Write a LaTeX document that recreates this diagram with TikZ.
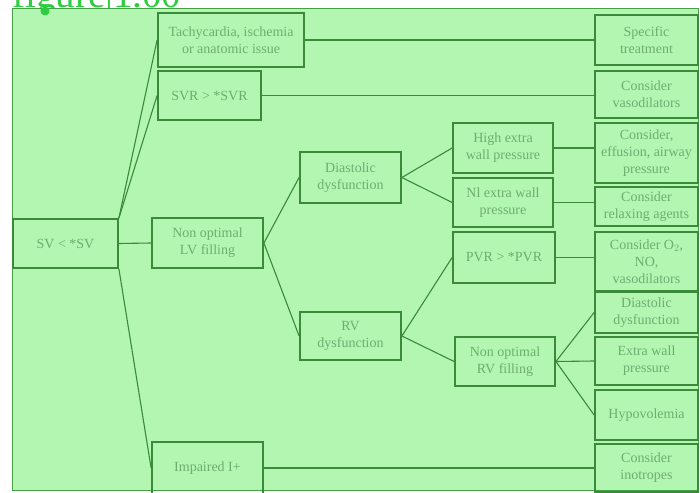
\documentclass[tikz,border=0pt]{standalone}
\usepackage{fontspec}
\setmainfont{Liberation Serif}
\begin{document}
\definecolor{haze}{RGB}{178,246,178}
\definecolor{rim}{RGB}{70,160,70}
\definecolor{edge}{RGB}{58,138,58}
\definecolor{ink}{RGB}{112,172,112}
\definecolor{tag}{RGB}{46,204,64}
\begin{tikzpicture}[x=1pt,y=-1pt,
  box/.style={draw=edge,line width=1.8pt,inner sep=1pt,align=center,
    font=\fontsize{14}{17}\selectfont,text=ink},
  link/.style={draw=edge,line width=1.1pt}]
\useasboundingbox (0,0) rectangle (700,492);
\begin{scope}
\clip (0,0) rectangle (700,492);
% page heading and highlighted region
\node[anchor=base west,inner sep=0pt,text=tag,font=\fontsize{39}{39}\selectfont] (head) at (12,8) {figure|1.00};
\fill[haze] (12,9) rectangle (698,490);
\draw[rim,line width=1pt] (12,9) rectangle (698,490);
\fill[tag] (45,11) circle (4.5);

% left part of the tree
\node[box,minimum width=105,minimum height=49] (sv) at (65.5,243.5) {SV < *SV};
\node[box,minimum width=146,minimum height=54] (tach) at (231,40) {Tachycardia, ischemia\\or anatomic issue};
\node[box,minimum width=103,minimum height=49] (svr) at (209.5,95.5) {SVR > *SVR};
\node[box,minimum width=111,minimum height=50] (lvf) at (207.5,243) {Non optimal\\LV filling};
\node[box,minimum width=111,minimum height=52] (imp) at (207.5,468) {Impaired I+};
\node[box,minimum width=101,minimum height=51] (dia) at (350.5,177.5) {Diastolic\\dysfunction};
\node[box,minimum width=101,minimum height=48] (rvd) at (350.5,336) {RV\\dysfunction};
\node[box,minimum width=100,minimum height=50] (high) at (503,148) {High extra\\wall pressure};
\node[box,minimum width=100,minimum height=49] (nl) at (503,202.5) {Nl extra wall\\pressure};
\node[box,minimum width=102,minimum height=51] (pvr) at (504,257.5) {PVR > *PVR};
\node[box,minimum width=100,minimum height=49] (rvf) at (505,361.5) {Non optimal\\RV filling};

% right column of actions
\node[box,minimum width=103,minimum height=50] (r1) at (646.5,40) {Specific\\treatment};
\node[box,minimum width=103,minimum height=47] (r2) at (646.5,94.5) {Consider\\vasodilators};
\node[box,minimum width=103,minimum height=60] (r3) at (646.5,153) {Consider,\\effusion, airway\\pressure};
\node[box,minimum width=103,minimum height=39] (r4) at (646.5,206.5) {Consider\\relaxing agents};
\node[box,minimum width=103,minimum height=59] (r5) at (646.5,261.5) {Consider O$_2$,\\NO,\\vasodilators};
\node[box,minimum width=103,minimum height=41] (r6) at (646.5,312.5) {Diastolic\\dysfunction};
\node[box,minimum width=103,minimum height=48] (r7) at (646.5,361) {Extra wall\\pressure};
\node[box,minimum width=103,minimum height=50] (r8) at (646.5,415) {Hypovolemia};
\node[box,minimum width=103,minimum height=48] (r9) at (646.5,468) {Consider\\inotropes};

% branches
\draw[link] (sv.north east) -- (tach.west);
\draw[link] (sv.north east) -- (svr.west);
\draw[link] (sv.east) -- (lvf.west);
\draw[link] (sv.south east) -- (imp.west);
\draw[link] (lvf.east) -- (dia.west);
\draw[link] (lvf.east) -- (rvd.west);
\draw[link] (dia.east) -- (high.west);
\draw[link] (dia.east) -- (nl.west);
\draw[link] (rvd.east) -- (pvr.west);
\draw[link] (rvd.east) -- (rvf.west);
\draw[link] (rvf.east) -- (r6.west);
\draw[link] (rvf.east) -- (r7.west);
\draw[link] (rvf.east) -- (r8.west);
\draw[link] (tach.east) -- (tach.east -| r1.west);
\draw[link] (svr.east) -- (svr.east -| r2.west);
\draw[link] (high.east) -- (high.east -| r3.west);
\draw[link] (nl.east) -- (nl.east -| r4.west);
\draw[link] (pvr.east) -- (pvr.east -| r5.west);
\draw[link] (imp.east) -- (imp.east -| r9.west);
\end{scope}
\end{tikzpicture}
\end{document}
